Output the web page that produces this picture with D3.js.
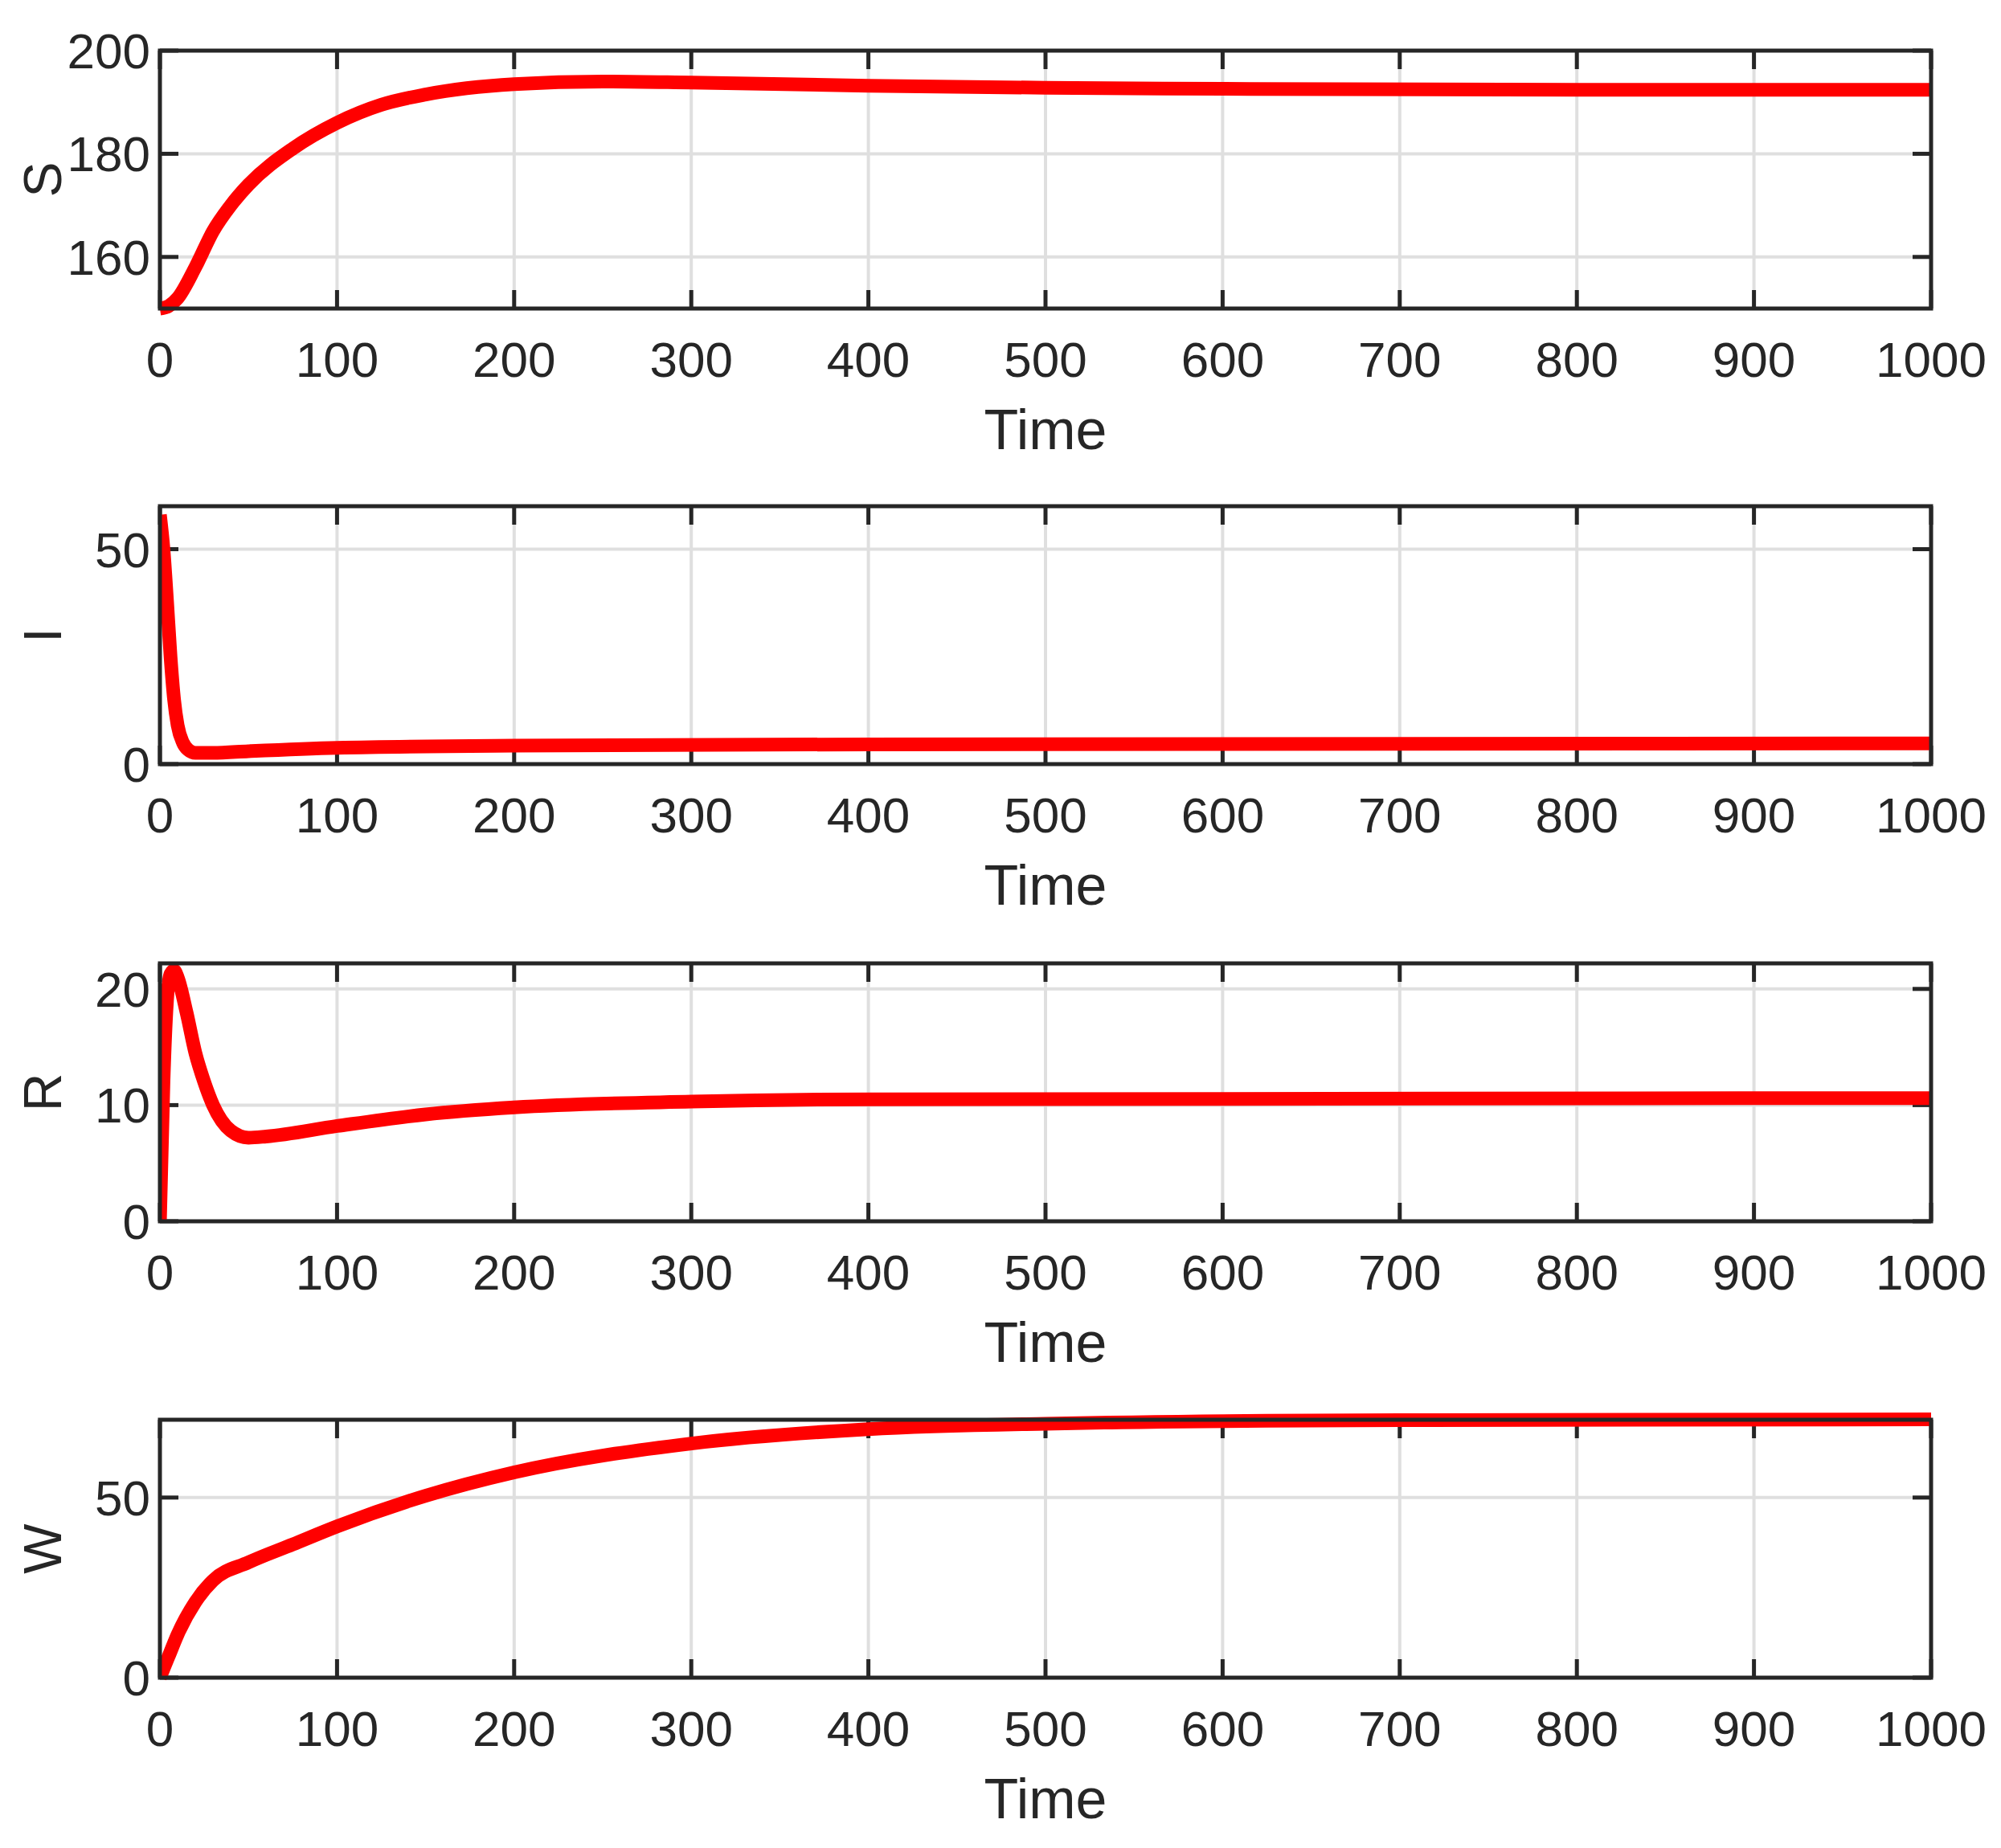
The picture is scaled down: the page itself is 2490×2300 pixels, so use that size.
<!DOCTYPE html>
<html><head><meta charset="utf-8">
<script src="https://cdn.jsdelivr.net/npm/d3@7"></script>
<style>body{margin:0;background:#fff}</style>
</head><body>
<script>
var timeTicks = [0,100,200,300,400,500,600,700,800,900,1000];
var sT = [0,5,10,20,30,40,50,75,100,125,150,200,250,300,400,500,600,800,1000];
var sV = [150,150.5,152,158,165,170,174,181,186,189.5,191.5,193.5,194,193.8,193.2,192.8,192.6,192.4,192.4];
var iT = [0,2,4,6,8,10,13,16,20,30,50,100,200,400,1000];
var iV = [58,50,38,25,15,9,5,3.3,2.6,2.6,3,3.8,4.3,4.6,4.8];
var rT = [0,2,4,6,8,10,15,20,25,30,40,50,60,100,150,200,300,400,1000];
var rV = [0,12,19,21.3,21.6,21,18,14.5,12,10,7.8,7.2,7.3,8.2,9.2,9.8,10.3,10.5,10.6];
var wT = [0,5,10,20,30,50,75,100,150,200,300,400,500,700,1000];
var wV = [0,6,12,21,27,32,37,42,50.5,57,65,69,70.5,71.5,71.7];

var panels = [
  {name:"S", t:sT, v:sV, dom:[150,200], ticks:[160,180,200], top:63},
  {name:"I", t:iT, v:iV, dom:[0,60], ticks:[0,50], top:630},
  {name:"R", t:rT, v:rV, dom:[0,22.2], ticks:[0,10,20], top:1199},
  {name:"W", t:wT, v:wV, dom:[0,71.6], ticks:[0,50], top:1767}
];

var W = 2490, H = 2300, left = 199, right = 2403, ph = 321;
var font = "'Liberation Sans Narrow','Arial Narrow','Liberation Sans',sans-serif";
var ink = "#262626";

var svg = d3.select("body").append("svg").attr("width", W).attr("height", H);
var x = d3.scaleLinear().domain([0,1000]).range([left,right]);

panels.forEach(function(p){
  var y = d3.scaleLinear().domain(p.dom).range([p.top+ph, p.top]);
  var g = svg.append("g");
  g.append("defs").append("clipPath").attr("id","c"+p.name)
   .append("rect").attr("x",left).attr("y",p.top-10).attr("width",right-left+10).attr("height",ph+20);

  // grid
  g.selectAll(".gx").data(timeTicks.slice(1,-1)).enter().append("line")
   .attr("x1",d=>x(d)).attr("x2",d=>x(d)).attr("y1",p.top).attr("y2",p.top+ph)
   .attr("stroke","#dfdfdf").attr("stroke-width",4);
  g.selectAll(".gy").data(p.ticks.filter(d=>d>p.dom[0]&&d<p.dom[1])).enter().append("line")
   .attr("y1",d=>y(d)).attr("y2",d=>y(d)).attr("x1",left).attr("x2",right)
   .attr("stroke","#dfdfdf").attr("stroke-width",4);

  // ticks inward, both sides
  var tl = 23;
  timeTicks.forEach(function(d){
    g.append("line").attr("x1",x(d)).attr("x2",x(d)).attr("y1",p.top+ph).attr("y2",p.top+ph-tl).attr("stroke",ink).attr("stroke-width",5);
    g.append("line").attr("x1",x(d)).attr("x2",x(d)).attr("y1",p.top).attr("y2",p.top+tl).attr("stroke",ink).attr("stroke-width",5);
  });
  p.ticks.forEach(function(d){
    g.append("line").attr("y1",y(d)).attr("y2",y(d)).attr("x1",left).attr("x2",left+tl).attr("stroke",ink).attr("stroke-width",5);
    g.append("line").attr("y1",y(d)).attr("y2",y(d)).attr("x1",right).attr("x2",right-tl).attr("stroke",ink).attr("stroke-width",5);
  });

  // data line
  var pts = p.t.map((t,i)=>[t,p.v[i]]);
  g.append("path").datum(pts)
   .attr("clip-path","url(#c"+p.name+")")
   .attr("d", d3.line().x(d=>x(d[0])).y(d=>y(d[1])).curve(d3.curveMonotoneX))
   .attr("fill","none").attr("stroke","#ff0000").attr("stroke-width",17)
   .attr("stroke-linejoin","round");

  // box
  g.append("rect").attr("x",left).attr("y",p.top).attr("width",right-left).attr("height",ph)
   .attr("fill","none").attr("stroke",ink).attr("stroke-width",5);

  // tick labels
  g.selectAll(".xl").data(timeTicks).enter().append("text")
   .attr("x",d=>x(d)).attr("y",p.top+ph+85).attr("text-anchor","middle")
   .attr("font-family",font).attr("font-size",62).attr("fill",ink).text(d=>d);
  g.selectAll(".yl").data(p.ticks).enter().append("text")
   .attr("x",left-12).attr("y",d=>y(d)+22).attr("text-anchor","end")
   .attr("font-family",font).attr("font-size",62).attr("fill",ink).text(d=>d);

  g.append("text").attr("x",(left+right)/2).attr("y",p.top+ph+175).attr("text-anchor","middle")
   .attr("font-family",font).attr("font-size",70).attr("fill",ink).text("Time");
  g.append("text").attr("transform","translate(76,"+(p.top+ph/2)+") rotate(-90)")
   .attr("text-anchor","middle").attr("font-family",font).attr("font-size",66).attr("fill",ink).text(p.name);
});
</script>
</body></html>
